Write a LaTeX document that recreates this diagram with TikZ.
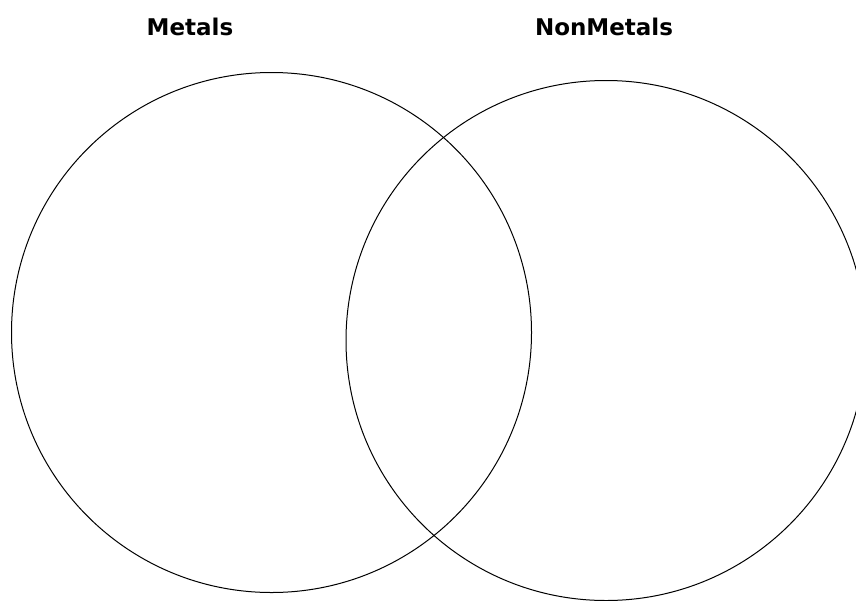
\documentclass[tikz,border=0pt]{standalone}
\usepackage{fontspec}
\newfontfamily\labelfont{DejaVu Sans}
\begin{document}
\begin{tikzpicture}[x=1pt,y=1pt,
  setcircle/.style={circle, draw=black, line width=1pt, minimum size=520pt, inner sep=0pt},
  settitle/.style={font=\labelfont\bfseries\fontsize{23}{26}\selectfont, inner sep=0pt, anchor=center}]
\useasboundingbox (0,0) rectangle (856,-600);
\clip (0,0) rectangle (856,-600);
\fill[white] (0,0) rectangle (856,-600);
\node[setcircle] (metals) at (271.5,-332.5) {};
\node[setcircle] (nonmetals) at (606,-340.5) {};
\node[settitle] (metalslabel) at (190,-27) {Metals};
\node[settitle] (nonmetalslabel) at (604,-27) {NonMetals};
\end{tikzpicture}
\end{document}
